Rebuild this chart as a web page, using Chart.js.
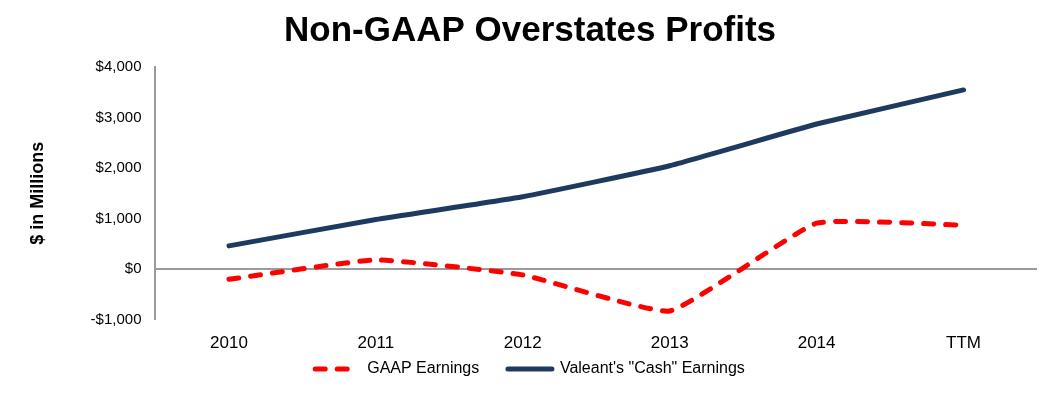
<!DOCTYPE html>
<html>
<head>
<meta charset="utf-8">
<script src="https://cdn.jsdelivr.net/npm/chart.js@4"></script>
<style>
  html, body { margin: 0; padding: 0; background: #fff; }
  #wrap { width: 1041px; height: 396px; position: relative; }
</style>
</head>
<body>
<div id="wrap"><canvas id="chart"></canvas></div>
<script>
// values ($ millions)
const categories = ['2010', '2011', '2012', '2013', '2014', 'TTM'];
const gaapEarnings = [-205, 178, -120, -833, 906, 867];
const cashEarnings = [456, 980, 1430, 2044, 2870, 3546];
const yTicks = [-1000, 0, 1000, 2000, 3000, 4000];

function money(v) {
  const s = '$' + Math.abs(v).toLocaleString('en-US');
  return v < 0 ? '-' + s : s;
}

const ctx = document.getElementById('chart').getContext('2d');
new Chart(ctx, {
  type: 'line',
  data: {
    labels: categories,
    datasets: [
      {
        label: 'GAAP Earnings',
        data: gaapEarnings,
        borderColor: '#ff0000',
        backgroundColor: '#ff0000',
        borderWidth: 5,
        borderDash: [10, 12],
        borderCapStyle: 'round',
        pointRadius: 0,
        tension: 0.12
      },
      {
        label: 'Valeant\'s "Cash" Earnings',
        data: cashEarnings,
        borderColor: '#1f3a5f',
        backgroundColor: '#1f3a5f',
        borderWidth: 5,
        borderCapStyle: 'round',
        pointRadius: 0,
        tension: 0.12
      }
    ]
  },
  options: {
    responsive: true,
    maintainAspectRatio: false,
    animation: false,
    layout: { padding: { left: 23, right: 4, top: 0, bottom: 9 } },
    plugins: {
      title: {
        display: true,
        text: 'Non-GAAP Overstates Profits',
        color: '#000',
        font: { family: 'Liberation Sans', size: 35, weight: 'bold' },
        padding: { top: 10, bottom: 15 }
      },
      legend: {
        position: 'bottom',
        labels: {
          color: '#000',
          font: { family: 'Liberation Sans', size: 16, lineHeight: 1 },
          usePointStyle: true,
          pointStyle: 'line',
          pointStyleWidth: 44,
          padding: 2,
          generateLabels: chart => {
            const items = Chart.defaults.plugins.legend.labels.generateLabels(chart);
            items.forEach((it, i) => {
              const ds = chart.data.datasets[it.datasetIndex];
              it.lineDash = ds.borderDash || [];
              it.lineCap = 'round';
              it.lineWidth = 5;
              // wider gap between the two entries
              if (i < items.length - 1) it.text += '      ';
            });
            return items;
          }
        }
      },
      tooltip: { enabled: false }
    },
    scales: {
      x: {
        offset: true,
        grid: { display: false },
        border: { display: false },
        ticks: {
          color: '#000',
          font: { family: 'Liberation Sans', size: 17, lineHeight: 0.8 },
          padding: 9
        }
      },
      y: {
        min: -1000,
        max: 4000,
        afterBuildTicks: axis => { axis.ticks = yTicks.map(v => ({ value: v })); },
        grid: {
          drawTicks: false,
          color: c => (c.tick && c.tick.value === 0 ? '#9a9a9a' : 'rgba(0,0,0,0)'),
          lineWidth: 2
        },
        border: { display: true, color: '#9a9a9a', width: 2 },
        ticks: {
          color: '#000',
          font: { family: 'Liberation Sans', size: 15 },
          padding: 14,
          callback: v => money(v)
        },
        title: {
          display: true,
          text: '$ in Millions',
          color: '#000',
          font: { family: 'Liberation Sans', size: 18, weight: 'bold' },
          padding: { bottom: 28 }
        }
      }
    }
  }
});
</script>
</body>
</html>
